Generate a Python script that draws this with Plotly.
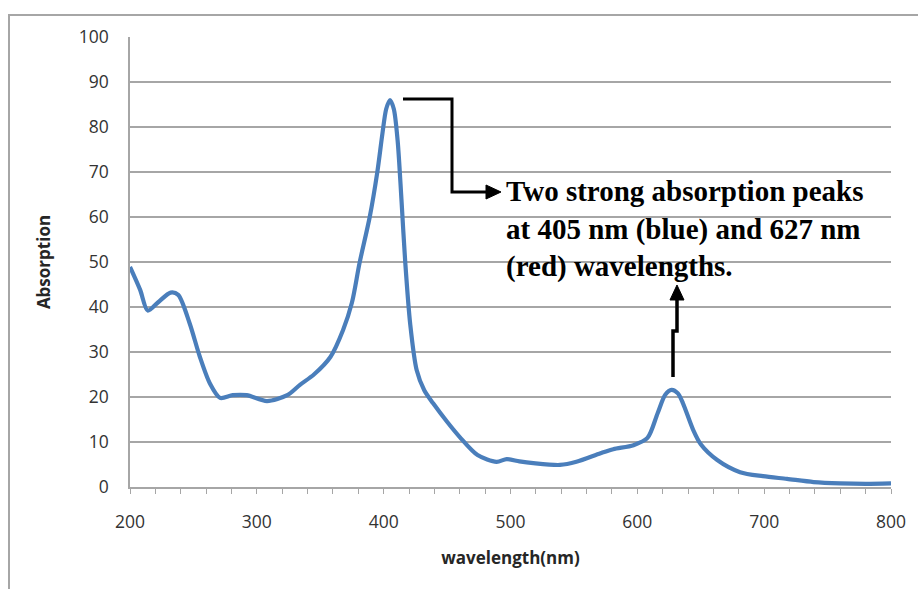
import plotly.graph_objects as go

# Data
wavelength = [200, 208, 214, 222, 232, 238, 247, 255, 263, 271, 281, 292, 308, 324, 334,
              345, 358, 368, 375, 381, 389, 395, 399, 402, 405, 408, 411, 414, 417, 421, 426, 432,
              439, 450, 460, 474, 489, 497, 507, 518, 539, 552, 571, 581, 597, 608, 616,
              622, 627, 632, 636, 644, 650, 663, 681, 699, 718, 739, 760, 780, 800]
absorption = [48.9, 43.8, 39.2, 41.0, 43.2, 42.7, 36.4, 29.0, 23.0, 19.8, 20.4, 20.4, 19.1, 20.4, 22.7,
              25.0, 28.9, 34.9, 41.0, 49.8, 60.0, 70.0, 78.5, 84.0, 86.0, 84.0, 77.0, 64.0, 50.0, 36.0, 26.0, 21.5,
              18.6, 14.5, 11.1, 7.1, 5.6, 6.2, 5.7, 5.3, 4.9, 5.6, 7.5, 8.4, 9.3, 10.9, 16.4,
              20.5, 21.6, 20.8, 18.6, 12.7, 9.5, 6.0, 3.3, 2.4, 1.8, 1.1, 0.8, 0.7, 0.8]
x_ticks = [200, 300, 400, 500, 600, 700, 800]
y_ticks = [0, 10, 20, 30, 40, 50, 60, 70, 80, 90, 100]
note_text = "Two strong absorption peaks<br>at 405 nm (blue) and 627 nm<br>(red) wavelengths."

W, H = 918, 589
L, R, T, B = 130, 891, 37, 487


def px(x):
    return (x - L) / (R - L)


def py(y):
    return (B - y) / (B - T)


def path(points, close=False):
    s = "M " + " L ".join(f"{px(a):.5f},{py(b):.5f}" for a, b in points)
    return s + (" Z" if close else "")


fig = go.Figure()
fig.add_trace(go.Scatter(
    x=wavelength, y=absorption, mode="lines",
    line=dict(color="#4A7EBB", width=4.2, shape="spline", smoothing=0.8),
    hoverinfo="x+y", showlegend=False,
))

grid = "#A6A6A6"
fig.update_layout(
    width=W, height=H,
    margin=dict(l=L, r=W - R, t=T, b=H - B, pad=0),
    paper_bgcolor="white", plot_bgcolor="white",
    font=dict(family="Open Sans", color="#333333", size=17.5),
    xaxis=dict(
        range=[200, 800], tickvals=x_ticks, ticktext=[str(v) for v in x_ticks],
        showgrid=False, zeroline=False, showline=True, linecolor=grid, linewidth=1.5,
        ticks="outside", ticklen=5, tickcolor=grid, tickwidth=1,
        minor=dict(dtick=20, tick0=200, ticks="outside", ticklen=5, tickcolor=grid, tickwidth=1, showgrid=False),
        ticklabelstandoff=13,
        title=dict(text="<b>wavelength(nm)</b>", font=dict(size=17, color="#262626"), standoff=20),
    ),
    yaxis=dict(
        range=[0, 100], tickvals=y_ticks, ticktext=[str(v) for v in y_ticks],
        showgrid=True, gridcolor=grid, gridwidth=1.5, zeroline=False,
        showline=True, linecolor=grid, linewidth=1.5, ticks="",
        ticklabelstandoff=16,
        title=dict(text="<b>Absorption</b>", font=dict(size=17, color="#262626"), standoff=24),
    ),
)

shapes = []
# outer frame (top and left border)
shapes.append(dict(type="path", xref="paper", yref="paper",
                   path=path([(9, 600), (9, 15), (930, 15)]),
                   line=dict(color="#A6A6A6", width=2)))
# first connector arrow
shapes.append(dict(type="path", xref="paper", yref="paper",
                   path=path([(403, 99), (452, 99), (452, 192), (488, 192)]),
                   line=dict(color="black", width=3)))
shapes.append(dict(type="path", xref="paper", yref="paper",
                   path=path([(486, 185), (501, 192), (486, 199)], close=True),
                   fillcolor="black", line=dict(color="black", width=1)))
# second arrow
shapes.append(dict(type="path", xref="paper", yref="paper",
                   path=path([(673, 377), (673, 331), (677, 331), (677, 298)]),
                   line=dict(color="black", width=3.5)))
shapes.append(dict(type="path", xref="paper", yref="paper",
                   path=path([(670, 300), (677, 285), (684, 300)], close=True),
                   fillcolor="black", line=dict(color="black", width=1)))
fig.update_layout(shapes=shapes)

fig.add_annotation(
    xref="paper", yref="paper", x=px(504), y=py(229),
    xanchor="left", yanchor="middle", align="left", showarrow=False,
    text="<b>" + note_text + "</b>",
    font=dict(family="Liberation Serif", size=29, color="black"),
)

fig.write_html("out.html")
